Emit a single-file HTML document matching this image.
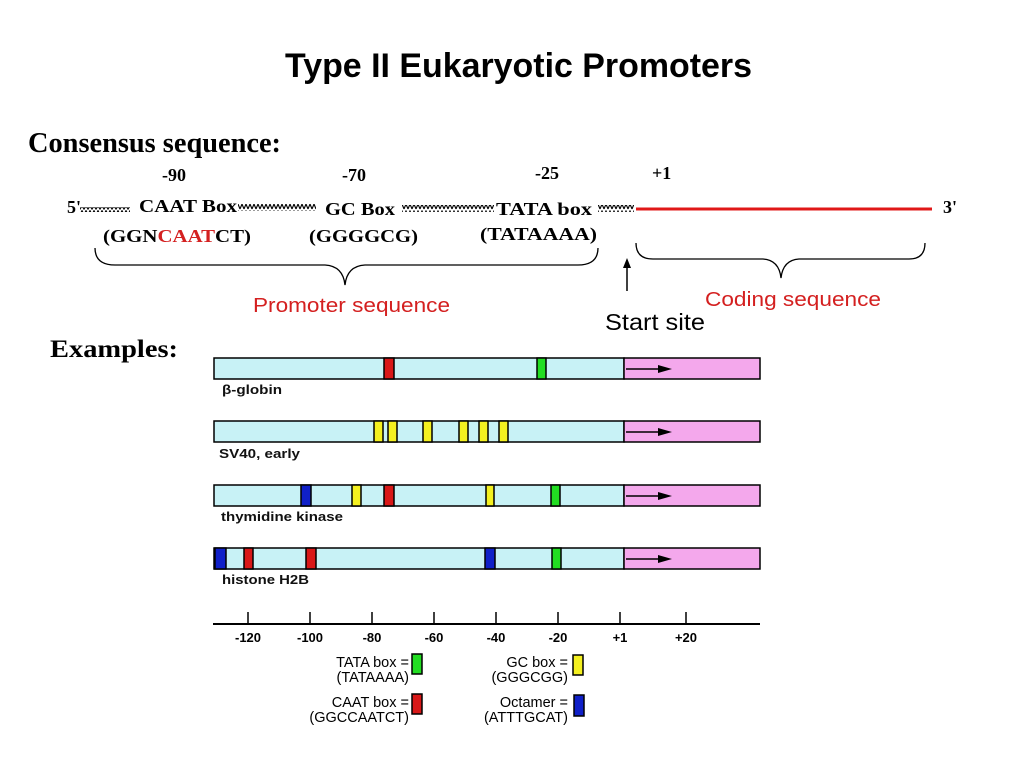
<!DOCTYPE html>
<html><head><meta charset="utf-8"><style>
html,body{margin:0;padding:0;background:#fff;}
svg{display:block;}
.t{font-family:"Liberation Serif",serif;font-weight:bold;}
.s{font-family:"Liberation Sans",sans-serif;}
</style></head><body>
<svg width="1024" height="768" viewBox="0 0 1024 768" xmlns="http://www.w3.org/2000/svg">
<defs>
<pattern id="zz" width="4" height="7" patternUnits="userSpaceOnUse">
<polyline points="0,6 2,1 4,6" fill="none" stroke="#000" stroke-width="1.1"/>
</pattern>
<pattern id="zs" width="4" height="5" patternUnits="userSpaceOnUse">
<polyline points="0,4.5 2,0.5 4,4.5" fill="none" stroke="#000" stroke-width="1"/>
</pattern>
</defs>
<text x="285" y="77" class="s" font-weight="bold" font-size="34" textLength="467" lengthAdjust="spacingAndGlyphs">Type II Eukaryotic Promoters</text>
<text x="28" y="152" class="t" font-size="28" textLength="253" lengthAdjust="spacingAndGlyphs">Consensus sequence:</text>

<g class="t" font-size="18">
<text x="162" y="181">-90</text>
<text x="342" y="181">-70</text>
<text x="535" y="179">-25</text>
<text x="652" y="179">+1</text>
<text x="67" y="213">5'</text>
<text x="139" y="212" textLength="98" lengthAdjust="spacingAndGlyphs">CAAT Box</text>
<text x="325" y="215" textLength="70" lengthAdjust="spacingAndGlyphs">GC Box</text>
<text x="496" y="215" textLength="96" lengthAdjust="spacingAndGlyphs">TATA box</text>
<text x="943" y="213">3'</text>
<text x="103" y="242" textLength="148" lengthAdjust="spacingAndGlyphs">(GGN<tspan fill="#d42020">CAAT</tspan>CT)</text>
<text x="309" y="242" textLength="109" lengthAdjust="spacingAndGlyphs">(GGGGCG)</text>
<text x="480" y="240" textLength="117" lengthAdjust="spacingAndGlyphs">(TATAAAA)</text>
</g>
<rect x="80" y="207" width="50" height="5" fill="url(#zs)"/>
<rect x="238" y="204" width="78" height="7" fill="url(#zz)"/>
<rect x="402" y="205" width="92" height="7" fill="url(#zz)"/>
<rect x="598" y="205" width="36" height="7" fill="url(#zz)"/>
<line x1="636" y1="209" x2="932" y2="209" stroke="#e01818" stroke-width="3"/>

<path d="M95,248 Q95,265 115,265 L325,265 Q343,266 345,285 Q347,266 365,265 L578,265 Q598,265 598,248" fill="none" stroke="#000" stroke-width="1.3"/>
<path d="M636,243 Q636,259 653,259 L763,259 Q779,260 781,278 Q783,260 799,259 L909,259 Q925,259 925,243" fill="none" stroke="#000" stroke-width="1.3"/>
<line x1="627" y1="291" x2="627" y2="266" stroke="#000" stroke-width="1.5"/>
<polygon points="627,258 623,268 631,268" fill="#000"/>

<text x="253" y="312" class="s" font-size="20" fill="#d42020" textLength="197" lengthAdjust="spacingAndGlyphs">Promoter sequence</text>
<text x="705" y="306" class="s" font-size="20" fill="#d42020" textLength="176" lengthAdjust="spacingAndGlyphs">Coding sequence</text>
<text x="605" y="330" class="s" font-size="23" textLength="100" lengthAdjust="spacingAndGlyphs">Start site</text>
<text x="50" y="357" class="t" font-size="25" textLength="128" lengthAdjust="spacingAndGlyphs">Examples:</text>

<g stroke="#000" stroke-width="1.5">
<rect x="214" y="358" width="410" height="21" fill="#c8f2f6"/>
<rect x="624" y="358" width="136" height="21" fill="#f4a8ec"/>
<rect x="384" y="358" width="10" height="21" fill="#d81818"/>
<rect x="537" y="358" width="9" height="21" fill="#22dd22"/>
<rect x="214" y="421" width="410" height="21" fill="#c8f2f6"/>
<rect x="624" y="421" width="136" height="21" fill="#f4a8ec"/>
<rect x="374" y="421" width="9" height="21" fill="#f4f020"/>
<rect x="388" y="421" width="9" height="21" fill="#f4f020"/>
<rect x="423" y="421" width="9" height="21" fill="#f4f020"/>
<rect x="459" y="421" width="9" height="21" fill="#f4f020"/>
<rect x="479" y="421" width="9" height="21" fill="#f4f020"/>
<rect x="499" y="421" width="9" height="21" fill="#f4f020"/>
<rect x="214" y="485" width="410" height="21" fill="#c8f2f6"/>
<rect x="624" y="485" width="136" height="21" fill="#f4a8ec"/>
<rect x="301" y="485" width="10" height="21" fill="#1020c8"/>
<rect x="352" y="485" width="9" height="21" fill="#f4f020"/>
<rect x="384" y="485" width="10" height="21" fill="#d81818"/>
<rect x="486" y="485" width="8" height="21" fill="#f4f020"/>
<rect x="551" y="485" width="9" height="21" fill="#22dd22"/>
<rect x="214" y="548" width="410" height="21" fill="#c8f2f6"/>
<rect x="624" y="548" width="136" height="21" fill="#f4a8ec"/>
<rect x="215" y="548" width="11" height="21" fill="#1020c8"/>
<rect x="244" y="548" width="9" height="21" fill="#d81818"/>
<rect x="306" y="548" width="10" height="21" fill="#d81818"/>
<rect x="485" y="548" width="10" height="21" fill="#1020c8"/>
<rect x="552" y="548" width="9" height="21" fill="#22dd22"/>
</g>
<g stroke="#000" stroke-width="1.5">
<line x1="626" y1="369" x2="660" y2="369"/><line x1="626" y1="432" x2="660" y2="432"/>
<line x1="626" y1="496" x2="660" y2="496"/><line x1="626" y1="559" x2="660" y2="559"/>
</g>
<g fill="#000">
<polygon points="672,369 658,365 658,373"/><polygon points="672,432 658,428 658,436"/>
<polygon points="672,496 658,492 658,500"/><polygon points="672,559 658,555 658,563"/>
</g>
<g class="s" font-size="13" font-weight="bold" fill="#111">
<text x="222" y="394" textLength="60" lengthAdjust="spacingAndGlyphs">β-globin</text>
<text x="219" y="458" textLength="81" lengthAdjust="spacingAndGlyphs">SV40, early</text>
<text x="221" y="521" textLength="122" lengthAdjust="spacingAndGlyphs">thymidine kinase</text>
<text x="222" y="584" textLength="87" lengthAdjust="spacingAndGlyphs">histone H2B</text>
</g>

<line x1="213" y1="624" x2="760" y2="624" stroke="#000" stroke-width="2"/>
<g stroke="#000" stroke-width="1.5">
<line x1="248" y1="612" x2="248" y2="624"/><line x1="310" y1="612" x2="310" y2="624"/>
<line x1="372" y1="612" x2="372" y2="624"/><line x1="434" y1="612" x2="434" y2="624"/>
<line x1="496" y1="612" x2="496" y2="624"/><line x1="558" y1="612" x2="558" y2="624"/>
<line x1="620" y1="612" x2="620" y2="624"/><line x1="686" y1="612" x2="686" y2="624"/>
</g>
<g class="s" font-size="13" font-weight="bold" text-anchor="middle">
<text x="248" y="642">-120</text><text x="310" y="642">-100</text><text x="372" y="642">-80</text>
<text x="434" y="642">-60</text><text x="496" y="642">-40</text><text x="558" y="642">-20</text>
<text x="620" y="642">+1</text><text x="686" y="642">+20</text>
</g>
<g class="s" font-size="14.5" text-anchor="end">
<text x="409" y="667">TATA box =</text><text x="409" y="682">(TATAAAA)</text>
<text x="568" y="667">GC box =</text><text x="568" y="682">(GGGCGG)</text>
<text x="409" y="707">CAAT box =</text><text x="409" y="722">(GGCCAATCT)</text>
<text x="568" y="707">Octamer =</text><text x="568" y="722">(ATTTGCAT)</text>
</g>
<g stroke="#000" stroke-width="1.5">
<rect x="412" y="654" width="10" height="20" fill="#22dd22"/>
<rect x="573" y="655" width="10" height="20" fill="#f4f020"/>
<rect x="412" y="694" width="10" height="20" fill="#d81818"/>
<rect x="574" y="695" width="10" height="21" fill="#1020c8"/>
</g>
</svg>
</body></html>
